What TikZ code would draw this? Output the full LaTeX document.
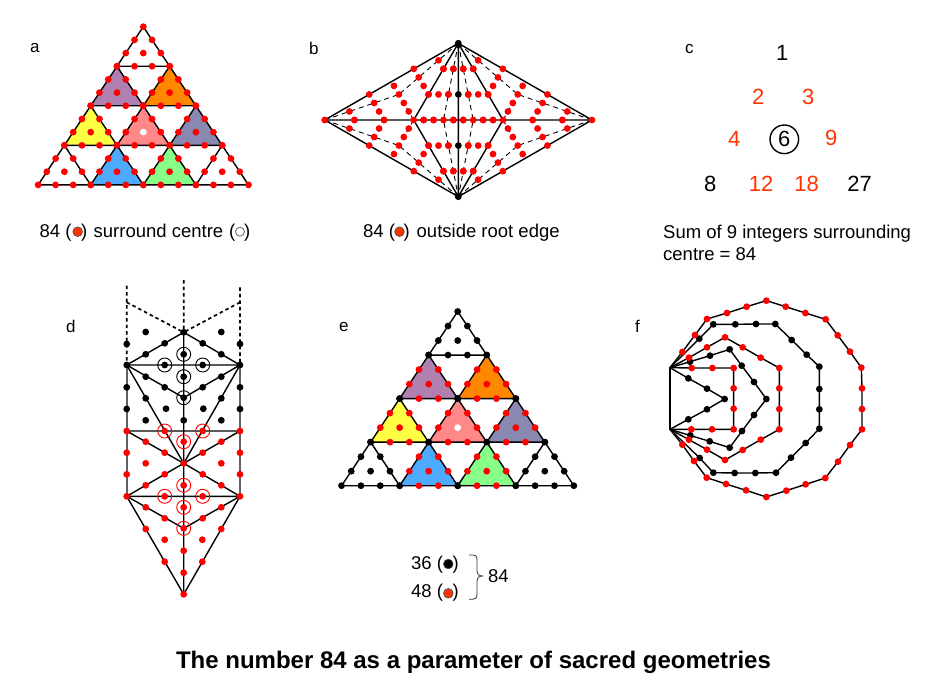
\documentclass[tikz,border=0pt]{standalone}
\usepackage{fontspec}
\setmainfont{Liberation Sans}
\usetikzlibrary{calc}
\definecolor{dotred}{HTML}{FF0000}
\definecolor{txtred}{HTML}{FF3300}
\definecolor{tpurple}{HTML}{B080B0}
\definecolor{torange}{HTML}{FF8800}
\definecolor{tyellow}{HTML}{FFFF44}
\definecolor{tpink}{HTML}{FF8888}
\definecolor{tslate}{HTML}{8888B0}
\definecolor{tblue}{HTML}{4DAAFF}
\definecolor{tgreen}{HTML}{88FF88}
\def\dotr{3.4pt}
\tikzset{
  edge/.style={line width=1.4pt,black,line cap=round},
  sideedge/.style={line width=1.9pt,black!62},
  dashedge/.style={line width=0.9pt,black,dash pattern=on 5pt off 4pt},
  dotted edge/.style={line width=1.7pt,black,dash pattern=on 3.5pt off 3pt},
  ring/.style={line width=0.9pt},
  lbl/.style={anchor=base west,inner sep=0pt,font=\fontsize{17}{20}\selectfont},
  txt/.style={anchor=base west,inner sep=0pt,font=\fontsize{18.5}{22}\selectfont},
  txte/.style={anchor=base east,inner sep=0pt,font=\fontsize{18.5}{22}\selectfont},
  num/.style={inner sep=0pt,font=\fontsize{22}{24}\selectfont},
  numr/.style={num,text=txtred},
  legdot/.style={line width=0.7pt,draw=black!70},
}
% One ten-point triangle of a tiered array: position given in half-widths and rows
\newcommand{\tetra}[6]{%
  \begin{scope}[shift={({\arrx+(#1)*\tris/2},{\arry+(#2)*\trih})}]
    \draw[edge,fill=#3] (0,0) -- ({-\tris/2},\trih) -- ({\tris/2},\trih) -- cycle;
    \fill[#4] (0,0) circle (\dotr) ({-\tris/2},\trih) circle (\dotr) ({\tris/2},\trih) circle (\dotr);
    \fill[#5] ({-\tris/6},{\trih/3}) circle (\dotr) ({\tris/6},{\trih/3}) circle (\dotr)
      ({-\tris/3},{2*\trih/3}) circle (\dotr) ({\tris/3},{2*\trih/3}) circle (\dotr)
      ({-\tris/6},\trih) circle (\dotr) ({\tris/6},\trih) circle (\dotr);
    \fill[#6] (0,{2*\trih/3}) circle (\dotr);
  \end{scope}}
% Dots at the thirds of a segment
\newcommand{\thirds}[3]{%
  \fill[#1] ($(#2)!1/3!(#3)$) circle (\dotr) ($(#2)!2/3!(#3)$) circle (\dotr);}
% Outer sector of the rhombus: three spokes to the centroid
\newcommand{\spokes}[3]{%
  \coordinate (sc) at (barycentric cs:#1=1,#2=1,#3=1);
  \draw[dashedge] (#1) -- (sc) (#2) -- (sc) (#3) -- (sc);}
\newcommand{\spokedots}[3]{%
  \coordinate (sc) at (barycentric cs:#1=1,#2=1,#3=1);
  \thirds{dotred}{#1}{#2}\thirds{dotred}{#2}{#3}\thirds{dotred}{#3}{#1}
  \thirds{dotred}{#1}{sc}\thirds{dotred}{#2}{sc}\thirds{dotred}{#3}{sc}
  \fill[dotred] (sc) circle (\dotr)
    (barycentric cs:#1=1,#2=1,sc=1) circle (\dotr)
    (barycentric cs:#2=1,#3=1,sc=1) circle (\dotr)
    (barycentric cs:#3=1,#1=1,sc=1) circle (\dotr);}
% Inner triangle of the rhombus: edges in thirds and a centre point
\newcommand{\innerdots}[4]{%
  \thirds{dotred}{#1}{#2}\thirds{dotred}{#2}{#3}\thirds{dotred}{#3}{#1}
  \fill[#4] (barycentric cs:#1=1,#2=1,#3=1) circle (\dotr);}
\begin{document}
\begin{tikzpicture}[x=1pt,y=-1pt]
\useasboundingbox (0,0) rectangle (945,695);
\fill[white] (0,0) rectangle (945,695);

% ---- a: tiered triangle, all points red ----
\def\arrx{143.3}\def\arry{26.7}\def\tris{52.6}\def\trih{39.55}
\tetra{0}{0}{white}{dotred}{dotred}{dotred}
\tetra{-1}{1}{tpurple}{dotred}{dotred}{dotred}
\tetra{1}{1}{torange}{dotred}{dotred}{dotred}
\tetra{-2}{2}{tyellow}{dotred}{dotred}{dotred}
\tetra{0}{2}{tpink}{dotred}{dotred}{white}
\tetra{2}{2}{tslate}{dotred}{dotred}{dotred}
\tetra{-3}{3}{white}{dotred}{dotred}{dotred}
\tetra{-1}{3}{tblue}{dotred}{dotred}{dotred}
\tetra{1}{3}{tgreen}{dotred}{dotred}{dotred}
\tetra{3}{3}{white}{dotred}{dotred}{dotred}
\node[lbl] at (30,53) {a};
\node[txt] at (39.5,237.7) {84 (};
\fill[txtred,legdot] (77.7,231.7) circle (4.8pt);
\node[txte] at (87.5,237.7) {)};
\node[txt] at (93.5,237.7) {surround centre};
\node[txt] at (229,237.7) {(};
\draw[black!60,line width=0.8pt,fill=white] (240,231.7) circle (4.5pt);
\node[txte] at (250.5,237.7) {)};

% ---- b: rhombus with dashed subdivisions ----
\coordinate (T) at (458.3,43.3);
\coordinate (B) at (458.3,196.7);
\coordinate (L) at (324.7,120);
\coordinate (R) at (592,120);
\coordinate (IL) at (413.7,120);
\coordinate (IR) at (503,120);
\coordinate (P) at (443.5,120);
\coordinate (Q) at (473.2,120);
\draw[edge] (T) -- (L) -- (B) -- (R) -- cycle (L) -- (R) (T) -- (B)
  (T) -- (IL) -- (B) -- (IR) -- cycle;
\spokes{T}{L}{IL}\spokes{T}{R}{IR}\spokes{B}{L}{IL}\spokes{B}{R}{IR}
\draw[dashedge] (T) -- (P) -- (B) (T) -- (Q) -- (B);
\spokedots{T}{L}{IL}\spokedots{T}{R}{IR}\spokedots{B}{L}{IL}\spokedots{B}{R}{IR}
\innerdots{T}{IL}{P}{dotred}\innerdots{T}{Q}{IR}{dotred}\innerdots{T}{P}{Q}{black}
\innerdots{B}{IL}{P}{dotred}\innerdots{B}{Q}{IR}{dotred}\innerdots{B}{P}{Q}{black}
\fill[dotred] (L) circle (\dotr) (R) circle (\dotr) (IL) circle (\dotr) (IR) circle (\dotr)
  (P) circle (\dotr) (Q) circle (\dotr);
\fill[black] (T) circle (\dotr) (B) circle (\dotr);
\node[lbl] at (309,54.3) {b};
\node[txt] at (363,237.7) {84 (};
\fill[txtred,legdot] (399.5,231.7) circle (4.8pt);
\node[txte] at (410,237.7) {)};
\node[txt] at (416.5,237.7) {outside root edge};

% ---- c: array of integers ----
\node[lbl] at (685,53.3) {c};
\node[num] at (782.3,52.7) {1};
\node[numr] at (758.3,96.7) {2};
\node[numr] at (808.3,96.7) {3};
\node[numr] at (734.3,139.3) {4};
\node[num] (six) at (784.3,139.3) {6};
\draw[line width=1.4pt] (six.center) circle (14.3pt);
\node[numr] at (831.3,138.3) {9};
\node[num] at (710.3,183.7) {8};
\node[numr] at (761,183.7) {12};
\node[numr] at (806.7,183.7) {18};
\node[num] at (859.7,183.7) {27};
\node[txt] at (663,239) {Sum of 9 integers surrounding};
\node[txt] at (663,261) {centre = 84};

% ---- d: branching lattice with ringed points ----
\node[lbl] at (66,332) {d};
\coordinate (dtop) at (183.7,280);
\coordinate (dltop) at (126.7,285.7);
\coordinate (drtop) at (240,287.3);
\coordinate (dlk) at (126.7,302.3);
\coordinate (drk) at (240,302.3);
\coordinate (da) at (183.7,332.3);
\coordinate (dl1) at (126.7,365);
\coordinate (dr1) at (240,365);
\coordinate (dm1) at (183.7,397.7);
\coordinate (dl2) at (126.7,431);
\coordinate (dr2) at (240,431);
\coordinate (dm2) at (183.7,463.3);
\coordinate (dl3) at (126.7,496.3);
\coordinate (dr3) at (240,496.3);
\coordinate (dm3) at (183.7,528.3);
\coordinate (dbot) at (183.7,594.3);
\draw[dotted edge] (dltop) -- (dl1) (drtop) -- (dr1) (dtop) -- (da) (dlk) -- (da) (drk) -- (da);
\draw[sideedge] (dl1) -- (dl3) (dr1) -- (dr3);
\draw[edge] (dl1) -- (dr1) (dl2) -- (dr2) (dl3) -- (dr3) (da) -- (dbot)
  (dl1) -- (da) -- (dr1) (dl1) -- (dm1) -- (dr1) (dl1) -- (dm2) -- (dr1)
  (dl2) -- (dm2) -- (dr2) (dl3) -- (dm2) -- (dr3)
  (dl3) -- (dm3) -- (dr3) (dl3) -- (dbot) -- (dr3);
\foreach \x/\y in {126.7/365,240/365,183.7/332.3,145.7/332,221.3/332,126.7/344,240/344,
  145.7/354.3,164.7/343.3,202.7/343.3,221.3/354.3,183.7/354.3,164.7/365,202.7/365,
  183.7/376.7,183.7/397.7,145.7/376.7,164.7/387.3,202.7/387.3,221.3/376.7,
  126.7/387.3,240/387.3,126.7/409,240/409,145.7/398.3,221.3/398.3,166/408.7,203.3/408.7,
  145.7/420.3,221.3/420.3,183.7/420.3}
  \fill[black] (\x,\y) circle (\dotr);
\foreach \x/\y in {183.7/354.3,164.7/365,202.7/365,183.7/376.7,183.7/397.7}
  \draw[ring,black] (\x,\y) circle (7pt);
\foreach \x/\y in {126.7/431,240/431,164.7/431,202.7/431,183.7/441.7,
  145.7/441.7,164.7/452.7,202.7/452.7,221.3/441.7,126.7/452.7,240/452.7,126.7/474.3,240/474.3,
  145.7/463.3,221.3/463.3,183.7/463.3,164.7/474.3,202.7/474.3,145.7/485.3,221.3/485.3,
  183.7/485.3,126.7/496.3,240/496.3,164.7/496.3,202.7/496.3,183.7/507.3,
  145.7/507.3,164.7/518.3,202.7/518.3,221.3/507.3,183.7/528.3,145.7/529,221.3/529,
  164.7/539.7,202.3/539.7,183.7/550.7,164.7/561.7,202.3/561.7,183.7/572.7,183.7/594.3}
  \fill[dotred] (\x,\y) circle (\dotr);
\foreach \x/\y in {164.7/431,202.7/431,183.7/441.7,183.7/485.3,164.7/496.3,202.7/496.3,
  183.7/507.3,183.7/528.3}
  \draw[ring,dotred] (\x,\y) circle (7pt);

% ---- e: tiered triangle, black and red points ----
\def\arrx{457.7}\def\arry{311.5}\def\tris{58.07}\def\trih{43.55}
\tetra{0}{0}{white}{black}{black}{black}
\tetra{-1}{1}{tpurple}{black}{dotred}{dotred}
\tetra{1}{1}{torange}{black}{dotred}{dotred}
\tetra{-2}{2}{tyellow}{black}{dotred}{dotred}
\tetra{0}{2}{tpink}{black}{dotred}{white}
\tetra{2}{2}{tslate}{black}{dotred}{dotred}
\tetra{-3}{3}{white}{black}{black}{black}
\tetra{-1}{3}{tblue}{black}{dotred}{dotred}
\tetra{1}{3}{tgreen}{black}{dotred}{dotred}
\tetra{3}{3}{white}{black}{black}{black}
\node[lbl] at (339,331.7) {e};
\node[txt] at (411,569.5) {36 (};
\fill[black,legdot] (448.3,564) circle (4.8pt);
\node[txte] at (459,569.5) {)};
\node[txt] at (411,597.5) {48 (};
\fill[txtred,legdot] (448.3,593.3) circle (4.8pt);
\node[txte] at (459,597.5) {)};
\coordinate (brt) at (469,555);
\coordinate (brb) at (469,599.3);
\coordinate (brtip) at (482.3,576);
\draw[line width=0.8pt,black!80] (brt) .. controls (476,554.5) and (477,556) .. (477,560)
  -- (477,571) .. controls (477,574) and (478,575.5) .. (brtip)
  .. controls (478,576.5) and (477,578) .. (477,581)
  -- (477,594) .. controls (477,598) and (476,599.5) .. (brb);
\node[txt] at (488,582.7) {84};

% ---- f: nested polygons sharing one edge ----
\node[lbl] at (635,332) {f};
\begin{scope}[shift={(650,285)},x=0.33333pt,y=-0.33333pt]
  \coordinate (fa) at (60,248);
  \coordinate (fb) at (60,433);
  \draw[edge,line width=1.8pt] (fa) -- (fb);
  \draw[edge] plot coordinates {(60,248)(115,280)(171,311)(224,342)(171,373)(115,403)(60,433)};
  \draw[edge] plot coordinates {(60,248)(125,249)(187,249)(251,249)(251,310)(251,371)(251,433)(186,433)(124,433)(60,433)};
  \draw[edge] plot coordinates {(60,248)(120,230)(180,212)(239,193)(275,242)(312,291)(349,342)(312,390)(276,438)(239,488)(179,469)(119,451)(60,433)};
  \draw[edge] plot coordinates {(60,248)(117,218)(171,187)(225,157)(278,187)(332,218)(388,249)(388,310)(388,372)(388,433)(332,464)(278,495)(225,525)(171,494)(117,464)(60,433)};
  \draw[edge] plot coordinates {(60,248)(148,161)(190,118)(256,118)(318,117)(376,117)(425,165)(470,209)(508,245)(508,312)(508,373)(508,431)(467,474)(423,518)(378,563)(316,564)(254,564)(190,563)(149,519)(60,433)};
  \draw[edge] plot coordinates {(60,248)(97,201)(135,150)(171,102)(231,84)(290,65)(349,47)(407,65)(466,84)(527,103)(563,151)(600,200)(634,248)(636,310)(636,372)(636,433)(600,480)(564,530)(526,579)(467,598)(409,617)(349,636)(288,616)(228,597)(170,578)(132,528)(97,479)(60,433)};
  \foreach \x/\y in {115/280,171/311,224/342,171/373,115/403,
    120/230,180/212,239/193,275/242,312/291,349/342,312/390,276/438,239/488,179/469,121/451,
    148/161,190/118,256/118,318/117,376/117,425/165,470/209,508/245,508/312,508/373,508/431,467/474,423/518,378/563,316/564,254/564,190/563,149/519}
    \fill[black] (\x,\y) circle (\dotr);
  \foreach \x/\y in {125/249,187/249,251/249,251/310,251/371,251/433,186/433,124/433,
    117/218,171/187,225/157,278/187,332/218,388/249,388/310,388/372,388/433,332/464,278/495,225/525,171/494,117/464,
    97/201,135/150,171/102,231/84,290/65,349/47,407/65,466/84,527/103,563/151,600/200,634/248,636/310,636/372,636/433,600/480,564/530,526/579,467/598,409/617,349/636,288/616,228/597,170/578,132/528,97/479}
    \fill[dotred] (\x,\y) circle (\dotr);
\end{scope}

% ---- caption ----
\node[anchor=base,inner sep=0pt,font=\bfseries\fontsize{24}{28}\selectfont] at (473.5,668)
  {The number 84 as a parameter of sacred geometries};
\end{tikzpicture}
\end{document}
